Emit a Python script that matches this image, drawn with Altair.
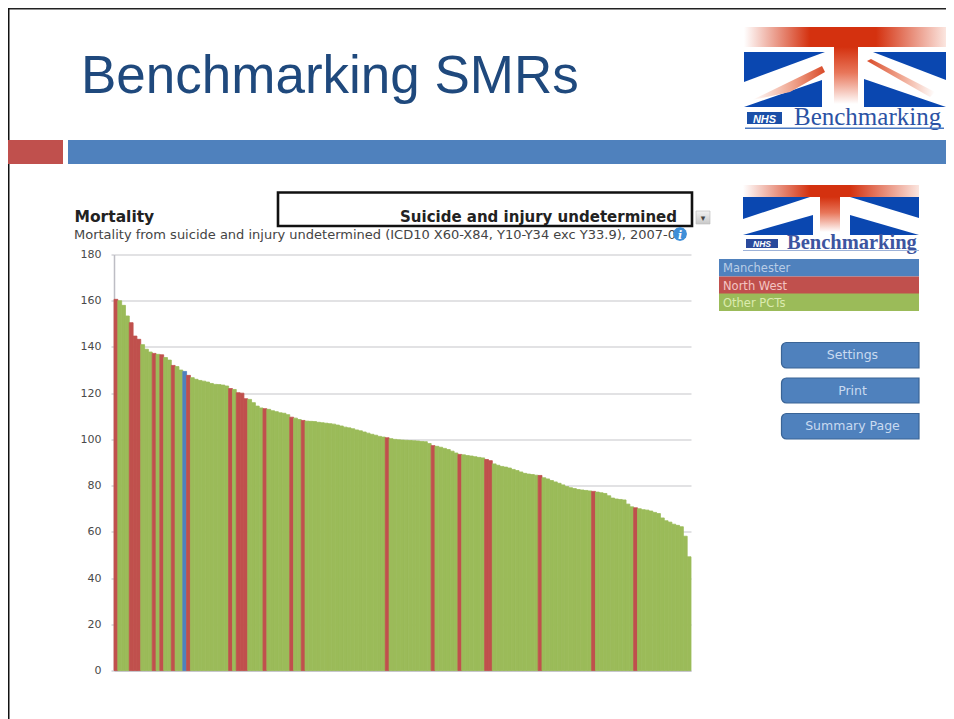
import altair as alt
import pandas as pd

# ---- chart data -------------------------------------------------------
values = [
    160.6, 160.0, 158.0, 153.4, 150.5, 144.7, 143.3, 141.0, 139.0, 137.8,
    137.2, 136.8, 136.6, 135.4, 134.3, 132.0, 131.5, 130.0, 129.4, 127.7,
    126.7, 126.0, 125.5, 125.2, 124.8, 124.2, 123.8, 123.7, 123.5, 123.1,
    122.0, 121.6, 120.2, 120.0, 117.6, 117.3, 115.9, 114.4, 113.6, 113.3,
    113.0, 112.4, 112.0, 111.5, 111.3, 110.7, 109.6, 109.2, 108.6, 108.2,
    107.9, 107.8, 107.7, 107.4, 107.2, 107.0, 106.8, 106.6, 106.2, 105.8,
    105.3, 105.0, 104.6, 104.1, 103.7, 103.2, 102.7, 102.2, 101.8, 101.3,
    101.0, 100.7, 100.3, 100.0, 99.8, 99.7, 99.6, 99.5, 99.4, 99.3,
    99.1, 99.0, 98.2, 97.3, 97.0, 96.6, 96.1, 95.6, 94.9, 94.1,
    93.5, 93.3, 93.0, 92.8, 92.5, 92.2, 92.0, 91.3, 90.8, 89.4,
    88.8, 88.3, 88.0, 87.6, 87.0, 86.5, 85.9, 85.3, 85.0,
    84.8, 84.5, 84.4, 83.4, 82.9, 82.2, 81.6, 81.0, 80.3, 79.6,
    79.1, 78.7, 78.3, 78.1, 77.9, 77.7, 77.5, 77.2, 76.9, 76.6,
    75.6, 74.6, 74.2, 74.0, 73.8, 72.0, 70.8, 70.4, 70.0, 69.6,
    69.4, 69.0, 68.4, 67.9, 66.0, 64.8, 64.2, 63.3, 62.8, 62.2,
    58.1, 49.2,
]
north_west_ranks = [0, 4, 5, 6, 10, 12, 15, 19, 30, 32, 33, 34, 39, 46, 49,
                    71, 83, 90, 97, 98, 111, 125, 136]
manchester_ranks = [18]
region_names = ["Manchester", "North West", "Other PCTs"]
region_colors = ["#4F81BD", "#C0504D", "#9BBB59"]
y_ticks = [0, 20, 40, 60, 80, 100, 120, 140, 160, 180]

regions = [
    region_names[0] if i in manchester_ranks
    else region_names[1] if i in north_west_ranks
    else region_names[2]
    for i in range(len(values))
]
df = pd.DataFrame({"rank": range(len(values)), "smr": values, "region": regions})

# ---- layout: page pixel -> plot-group pixel ----------------------------
OX, OY = 114, 254.5
PW, PH = 577, 416


def X(v):
    return v - OX


def Y(v):
    return v - OY


def rect(x0, y0, x1, y1, **kw):
    return alt.Chart().mark_rect(**kw).encode(
        x=alt.value(X(x0)), x2=alt.value(X(x1)),
        y=alt.value(Y(y0)), y2=alt.value(Y(y1)),
    )


def text(s, x, y, **kw):
    return alt.Chart().mark_text(text=s, baseline="alphabetic", **kw).encode(
        x=alt.value(X(x)), y=alt.value(Y(y))
    )


def poly(points, **kw):
    path = "M" + "L".join(f"{X(a):.1f},{Y(b):.1f}" for a, b in points) + "Z"
    return alt.Chart().mark_point(
        shape=path, size=4, filled=True, opacity=1, strokeWidth=0, **kw
    ).encode(x=alt.value(0), y=alt.value(0))


def grad(stops, horizontal=True):
    return alt.Gradient(
        gradient="linear",
        stops=[alt.GradientStop(color=c, offset=o) for o, c in stops],
        x1=0, y1=0, x2=1 if horizontal else 0, y2=0 if horizontal else 1,
    )


RED = "#D4310F"
FLAG_BLUE = "#0A47B0"

# ---- the bar chart itself ----------------------------------------------
bars = alt.Chart(df).mark_bar(strokeWidth=0.8).encode(
    x=alt.X(
        "rank:O",
        sort=None,
        scale=alt.Scale(paddingInner=0, paddingOuter=0),
        axis=alt.Axis(labels=False, ticks=False, title=None, grid=False,
                      domainColor="#BDBDC4", domainWidth=1.5),
    ),
    y=alt.Y(
        "smr:Q",
        scale=alt.Scale(domain=[0, 180], nice=False),
        axis=alt.Axis(values=y_ticks, title=None, grid=True, gridColor="#C6C6CA",
                      gridWidth=1.2, domainColor="#BDBDC4", domainWidth=1.5,
                      tickColor="#BDBDC4", tickSize=3, labelPadding=10,
                      labelFont="DejaVu Sans", labelFontSize=11,
                      labelColor="#4A4A4A"),
    ),
    color=alt.Color("region:N", legend=None,
                    scale=alt.Scale(domain=region_names, range=region_colors)),
    stroke=alt.Stroke("region:N", legend=None,
                      scale=alt.Scale(domain=region_names, range=region_colors)),
    order=alt.Order("rank:Q"),
)

layers = [bars]

# ---- slide frame, title and banner --------------------------------------
layers += [
    rect(8, 8, 954, 9.5, fill="#222222"),
    rect(8, 8, 9.5, 719, fill="#111111"),
    rect(8, 140, 63, 164, fill="#C0504D"),
    rect(68, 140, 954, 164, fill="#4F81BD"),
    text("Benchmarking SMRs", 81, 93, font="Liberation Sans", fontSize=53,
         align="left", color="#1F497D"),
]


# ---- logos ---------------------------------------------------------------
def flag(x0, x1, band0, band1, top, bot, cx0, cx1, solid0, solid1,
         tl_x, tr_x, bl_x, br_x, tl_y, tr_y, bl_y, br_y):
    w = x1 - x0
    return [
        rect(x0, band0, x1, band1, fill=grad([
            (0, "#FFFFFF"), ((solid0 - x0) / w, RED), ((solid1 - x0) / w, RED), (1, "#FBE6E0")])),
        rect(cx0, band1, cx1, bot - 3, fill=grad([(0, RED), (0.45, "#E8765A"), (1, "#FFFFFF")], False)),
        poly([(x0, top), (tl_x, top), (x0, tl_y)], fill=FLAG_BLUE),
        poly([(tr_x, top), (x1, top), (x1, tr_y)], fill=FLAG_BLUE),
        poly([(x0, bot), (bl_x, bl_y), (bl_x, bot)], fill=FLAG_BLUE),
        poly([(br_x, br_y), (x1, bot), (br_x, bot)], fill=FLAG_BLUE),
    ]


layers += flag(744, 946, 27, 47, 52, 107, 834, 858, 810, 876,
               825, 873, 822, 864, 82, 80, 80, 79)
layers += [
    poly([(822, 66), (825, 72), (790, 92), (752, 100)],
         fill=grad([(0, "#FFFFFF"), (0.6, "#EE9C84"), (1, "#D94A28")])),
    poly([(867, 61), (871, 59), (935, 92), (930, 97)],
         fill=grad([(0, "#D94A28"), (0.5, "#F0A690"), (1, "#FFFFFF")])),
    rect(747, 112, 782, 124, fill="#1A4FA8"),
    text("NHS", 764.5, 122.5, font="Liberation Sans", fontSize=11, fontWeight="bold",
         fontStyle="italic", align="center", color="#FFFFFF"),
    text("Benchmarking", 794, 125, font="Liberation Serif", fontSize=25, align="left",
         color="#2B52A4"),
    rect(745, 127.6, 944, 129, fill="#4A78C0"),
]

layers += flag(743, 919, 185, 197, 197, 235, 820, 840, 810, 850,
               810, 850, 813, 850, 219, 218, 215, 215)
layers += [
    rect(746, 239, 778, 248, fill="#2A4A9C"),
    text("NHS", 762, 247, font="Liberation Sans", fontSize=8.5, fontWeight="bold",
         fontStyle="italic", align="center", color="#FFFFFF"),
    text("Benchmarking", 787, 249, font="Liberation Serif", fontSize=20.5, fontWeight="bold",
         align="left", color="#3D55A0"),
    rect(743, 250, 919, 251, fill="#9DB2D8"),
    rect(919, 236, 935, 252, fill="#FFFFFF"),
]

# ---- legend blocks --------------------------------------------------------
legend_text_colors = ["#B9CDE6", "#F3C4C2", "#DCEBAF"]
legend_tops = [259, 276.5, 293.5]
for name, col, tcol, top in zip(region_names, region_colors, legend_text_colors, legend_tops):
    layers.append(rect(719, top, 919, top + 17.5, fill=col))
    layers.append(text(name, 723, top + 13, font="DejaVu Sans", fontSize=11.5,
                       align="left", color=tcol))

# ---- buttons ---------------------------------------------------------------
buttons = [("Settings", 342.5, 368), ("Print", 378, 403), ("Summary Page", 413.5, 439)]
for label, top, bot in buttons:
    layers.append(rect(781.5, top, 919, bot, fill="#4F81BD", stroke="#3A6496", strokeWidth=1.2,
                       cornerRadiusTopLeft=5, cornerRadiusBottomLeft=5))
    layers.append(text(label, 852.5, (top + bot) / 2 + 4, font="DejaVu Sans", fontSize=12.5,
                       align="center", color="#C9DAF0"))

# ---- heading block -----------------------------------------------------------
layers += [
    text("Mortality", 74.5, 222, font="DejaVu Sans", fontSize=15.5, fontWeight="bold",
         align="left", color="#222222"),
    rect(278, 192.5, 692, 226, fill="#FFFFFF", stroke="#111111", strokeWidth=2.6),
    text("Suicide and injury undetermined", 677, 222, font="DejaVu Sans", fontSize=15,
         fontWeight="bold", align="right", color="#222222"),
    rect(696, 211, 710, 224, fill=grad([(0, "#F2F2F2"), (1, "#C8C8C8")], False),
         stroke="#BBBBBB", strokeWidth=0.6),
    text("▾", 703, 221, font="DejaVu Sans", fontSize=9, align="center", color="#444444"),
    text("Mortality from suicide and injury undetermined (ICD10 X60-X84, Y10-Y34 exc Y33.9), 2007-0",
         74, 239, font="DejaVu Sans", fontSize=13, align="left", color="#444444"),
    poly([(680 + dx, 234 + dy) for dx, dy in [
        (7, 0), (6, 3.5), (3.5, 6), (0, 7), (-3.5, 6), (-6, 3.5), (-7, 0),
        (-6, -3.5), (-3.5, -6), (0, -7), (3.5, -6), (6, -3.5)]], fill="#3F8FD8"),
    text("i", 680, 238.5, font="DejaVu Serif", fontSize=11, fontStyle="italic",
         fontWeight="bold", align="center", color="#FFFFFF"),
]

chart = alt.layer(*layers).resolve_scale(color="shared").properties(
    width=PW,
    height=PH,
    background="#FFFFFF",
    # the page's flex container is 938px wide: anything wider gets rescaled
    padding={"left": OX - 8, "top": OY - 8, "right": 938 - (OX - 8) - PW,
             "bottom": 711 - (OY - 8) - PH},
    autosize=alt.AutoSizeParams(type="none"),
).configure_view(stroke=None)

chart.save("out.html", embed_options={"renderer": "svg", "actions": False})
